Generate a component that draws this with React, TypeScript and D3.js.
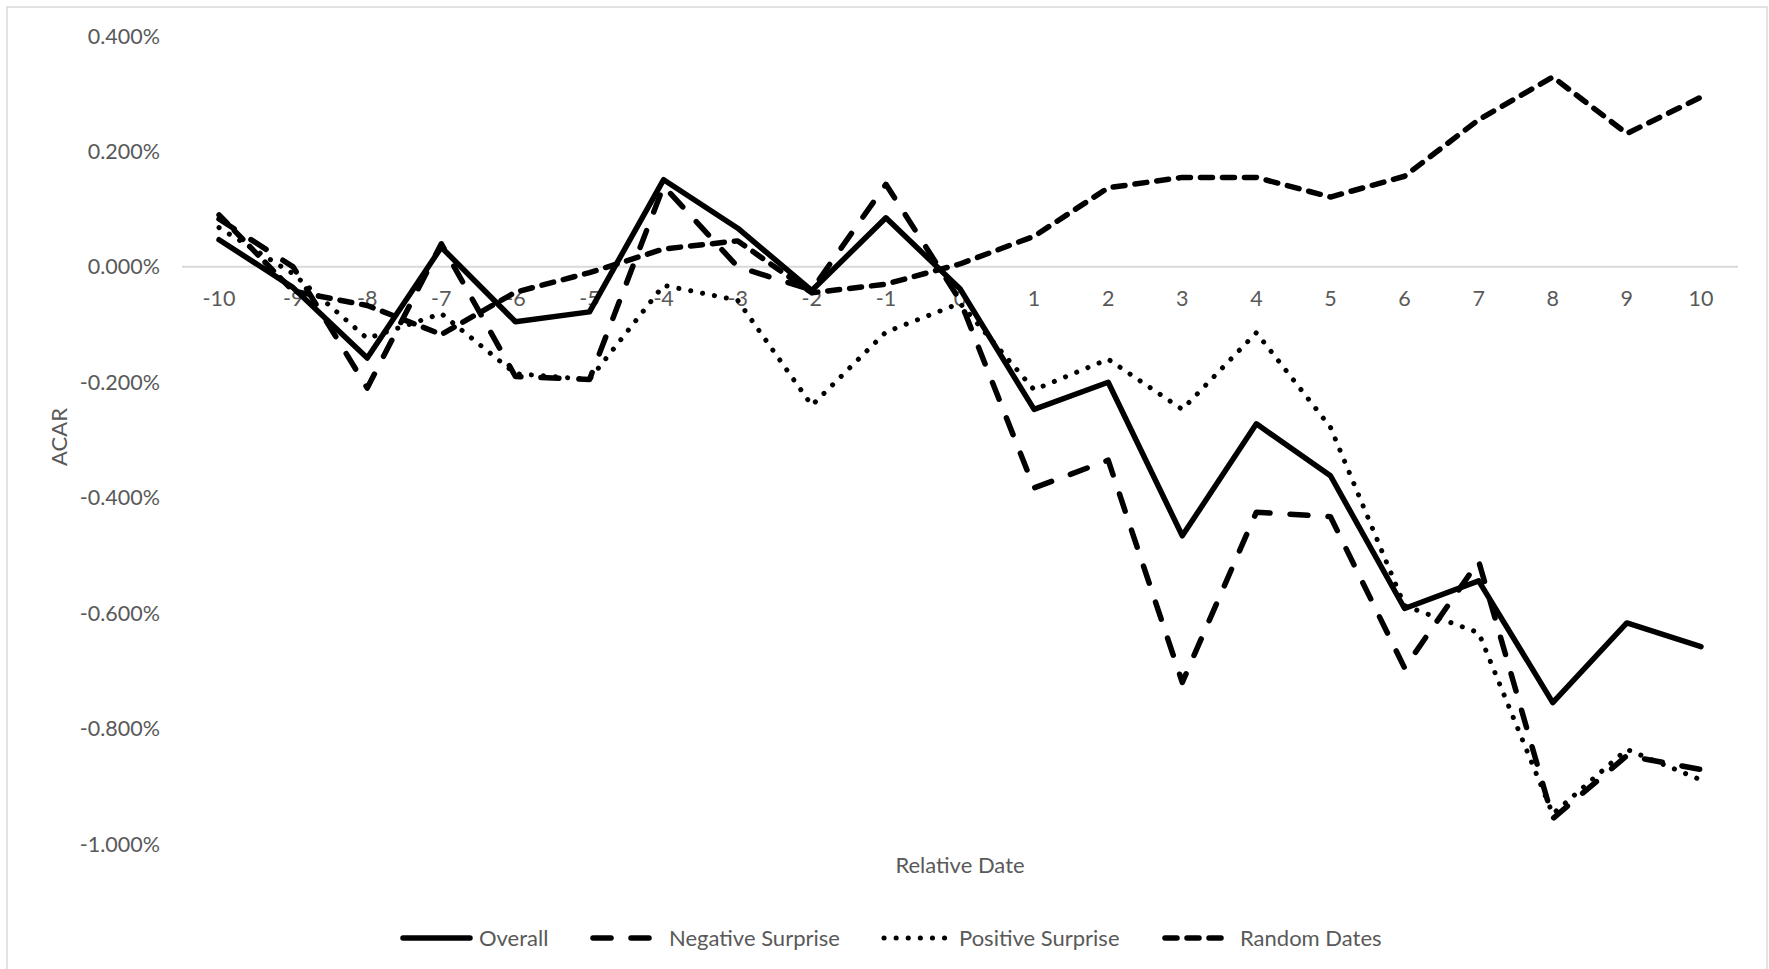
import React from "react";
import * as d3 from "d3";

const categories = [-10, -9, -8, -7, -6, -5, -4, -3, -2, -1, 0, 1, 2, 3, 4, 5, 6, 7, 8, 9, 10];
const overall = [0.047, -0.036, -0.158, 0.034, -0.095, -0.078, 0.151, 0.067, -0.041, 0.085, -0.038, -0.247, -0.2, -0.466, -0.272, -0.362, -0.592, -0.544, -0.755, -0.617, -0.658];
const negativeSurprise = [0.083, 0.0, -0.21, 0.04, -0.19, -0.195, 0.14, 0.0, -0.04, 0.143, -0.058, -0.383, -0.335, -0.72, -0.425, -0.433, -0.695, -0.51, -0.956, -0.847, -0.871];
const positiveSurprise = [0.068, -0.012, -0.124, -0.081, -0.185, -0.195, -0.032, -0.058, -0.24, -0.113, -0.063, -0.213, -0.16, -0.247, -0.114, -0.278, -0.587, -0.634, -0.948, -0.836, -0.889];
const randomDates = [0.09, -0.042, -0.067, -0.117, -0.044, -0.01, 0.031, 0.045, -0.045, -0.03, 0.005, 0.053, 0.137, 0.155, 0.155, 0.121, 0.157, 0.255, 0.329, 0.231, 0.294];
const yTicks = [0.4, 0.2, 0.0, -0.2, -0.4, -0.6, -0.8, -1.0];

const seriesNames = ["Overall", "Negative Surprise", "Positive Surprise", "Random Dates"];

const W = 1769;
const H = 969;
const FONT = "Lato, 'Noto Sans', sans-serif";
const TEXT = "#595959";

const styles = [
  { dash: "none", width: 5.5 },
  { dash: "18 20", width: 5.5 },
  { dash: "0.1 12", width: 5 },
  { dash: "12 10", width: 5.5 },
];

export default function App() {
  const x = d3.scaleBand<number>().domain(categories).range([182, 1738]);
  const y = d3.scaleLinear().domain([-1.0, 0.4]).range([844, 36]);
  const cx = (c: number) => (x(c) as number) + x.bandwidth() / 2;
  const line = d3
    .line<number>()
    .x((_, i) => cx(categories[i]))
    .y((v) => y(v));
  const data = [overall, negativeSurprise, positiveSurprise, randomDates];
  const fmt = (v: number) => v.toFixed(3) + "%";

  const legend = [
    { x1: 403, x2: 470, tx: 479 },
    { x1: 593, x2: 652, tx: 669 },
    { x1: 884, x2: 946, tx: 959 },
    { x1: 1165, x2: 1224, tx: 1240 },
  ];
  const ly = 938;

  return (
    <div style={{ position: "absolute", left: 0, top: 0 }}>
      <svg width={W} height={H} style={{ display: "block", background: "#fff" }}>
        <rect x={7} y={7} width={1760} height={980} fill="#fff" stroke="#d9d9d9" strokeWidth={1.5} />
        {/* zero axis line */}
        <line x1={182} x2={1738} y1={y(0)} y2={y(0)} stroke="#d9d9d9" strokeWidth={2} />
        {/* y tick labels */}
        {yTicks.map((t) => (
          <text key={t} x={160} y={y(t)} dy="0.35em" textAnchor="end" fontFamily={FONT} fontSize={21.5} fill={TEXT}>
            {fmt(t)}
          </text>
        ))}
        {/* x tick labels */}
        {categories.map((c) => (
          <text key={c} x={cx(c)} y={298} dy="0.35em" textAnchor="middle" fontFamily={FONT} fontSize={21.5} fill={TEXT}>
            {c}
          </text>
        ))}
        {/* series */}
        {data.map((d, i) => (
          <path
            key={i}
            d={line(d) as string}
            fill="none"
            stroke="#000"
            strokeWidth={styles[i].width}
            strokeDasharray={styles[i].dash}
            strokeLinecap="round"
            strokeLinejoin="round"
          />
        ))}
        {/* axis titles */}
        <text x={960} y={865} dy="0.35em" textAnchor="middle" fontFamily={FONT} fontSize={22} fill={TEXT}>
          Relative Date
        </text>
        <text
          transform={`translate(59,437) rotate(-90)`}
          dy="0.35em"
          textAnchor="middle"
          fontFamily={FONT}
          fontSize={22}
          fill={TEXT}
        >
          ACAR
        </text>
        {/* legend */}
        {seriesNames.map((n, i) => (
          <g key={n}>
            <line
              x1={legend[i].x1}
              x2={legend[i].x2}
              y1={ly}
              y2={ly}
              stroke="#000"
              strokeWidth={styles[i].width}
              strokeDasharray={styles[i].dash}
              strokeLinecap="round"
            />
            <text x={legend[i].tx} y={ly} dy="0.35em" fontFamily={FONT} fontSize={22} fill={TEXT}>
              {n}
            </text>
          </g>
        ))}
      </svg>
    </div>
  );
}
